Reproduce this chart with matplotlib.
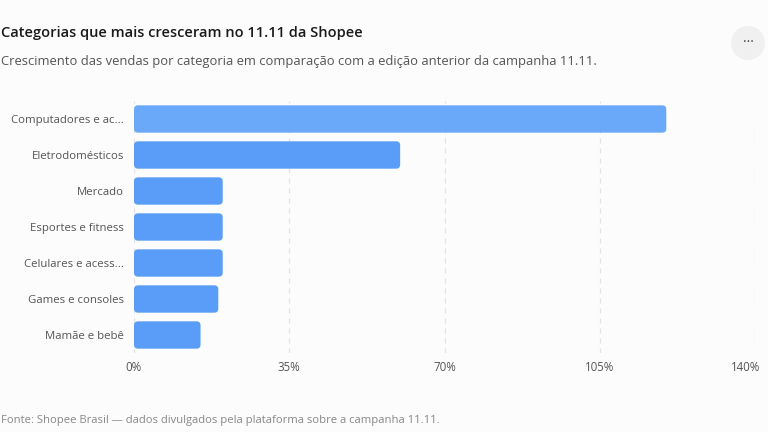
import matplotlib.pyplot as plt
import matplotlib.transforms as mtransforms
from matplotlib.patches import FancyBboxPatch, Ellipse

categorias = ["Computadores e ac...", "Eletrodomésticos", "Mercado", "Esportes e fitness",
              "Celulares e acess...", "Games e consoles", "Mamãe e bebê"]
crescimento = [120, 60, 20, 20, 20, 19, 15]
ticks = [0, 35, 70, 105, 140]
tick_labels = ["0%", "35%", "70%", "105%", "140%"]

plt.rcParams['font.family'] = ['Open Sans', 'DejaVu Sans']

bg = "#fcfcfc"
fig = plt.figure(figsize=(7.68, 4.32), dpi=100, facecolor=bg)
ax = fig.add_axes([134 / 768, 1 - 353 / 432, 621 / 768, 252 / 432])
ax.set_facecolor(bg)

y = list(range(len(categorias)))
bars = ax.barh(y, crescimento, height=0.76, color="none")
ax.set_xlim(0, 140)
ax.set_ylim(len(categorias) - 0.5, -0.5)

# rounded bars (about 4px corner radius)
px_x = 140 / 621
px_y = len(categorias) / 252
for i, b in enumerate(bars):
    x0, y0 = b.get_x(), b.get_y()
    w, h = b.get_width(), b.get_height()
    r = 4 * px_x
    col = "#6aa8fa" if i == 0 else "#5a9df8"
    p = FancyBboxPatch((x0 + r, y0 + r * px_y / px_x), w - 2 * r, h - 2 * r * px_y / px_x,
                       boxstyle=f"round,pad={r}", mutation_aspect=px_y / px_x,
                       fc=col, ec="none", zorder=3)
    ax.add_patch(p)
    b.remove()

ax.set_xticks(ticks)
ax.set_xticklabels(tick_labels)
ax.set_yticks(y)
ax.set_yticklabels(categorias)
ax.grid(axis="x", color="#e3e3e3", linestyle=(0, (4, 4)), linewidth=0.9, zorder=0)
ax.grid(axis="y", visible=False)
for s in ax.spines.values():
    s.set_visible(False)
ax.tick_params(axis="x", length=0, pad=6, labelsize=8.3, labelcolor="#555555")
ax.tick_params(axis="y", length=0, pad=7, labelsize=8.2, labelcolor="#555555")
# last tick label kept inside the figure
last = ax.get_xticklabels()[-1]
last.set_transform(last.get_transform() + mtransforms.ScaledTranslation(-9 / 100, 0, fig.dpi_scale_trans))

fig.text(1 / 768, 1 - 33 / 432, "Categorias que mais cresceram no 11.11 da Shopee",
         fontsize=10.5, fontweight="semibold", color="#1a1a1a", va="center")
fig.text(1 / 768, 1 - 62 / 432,
         "Crescimento das vendas por categoria em comparação com a edição anterior da campanha 11.11.",
         fontsize=9.4, color="#555555", va="center")
fig.text(1 / 768, 1 - 420 / 432,
         "Fonte: Shopee Brasil — dados divulgados pela plataforma sobre a campanha 11.11.",
         fontsize=8.1, color="#888888", va="center")

# menu button
btn = Ellipse((748 / 768, 1 - 43 / 432), 34 / 768, 34 / 432, transform=fig.transFigure,
              fc="#f0f0f0", ec="none")
fig.patches.append(btn)
fig.text(748 / 768, 1 - 43 / 432, "···", ha="center", va="center", fontsize=10, color="#444444")

fig.savefig("out.png", dpi=100, facecolor=bg)
